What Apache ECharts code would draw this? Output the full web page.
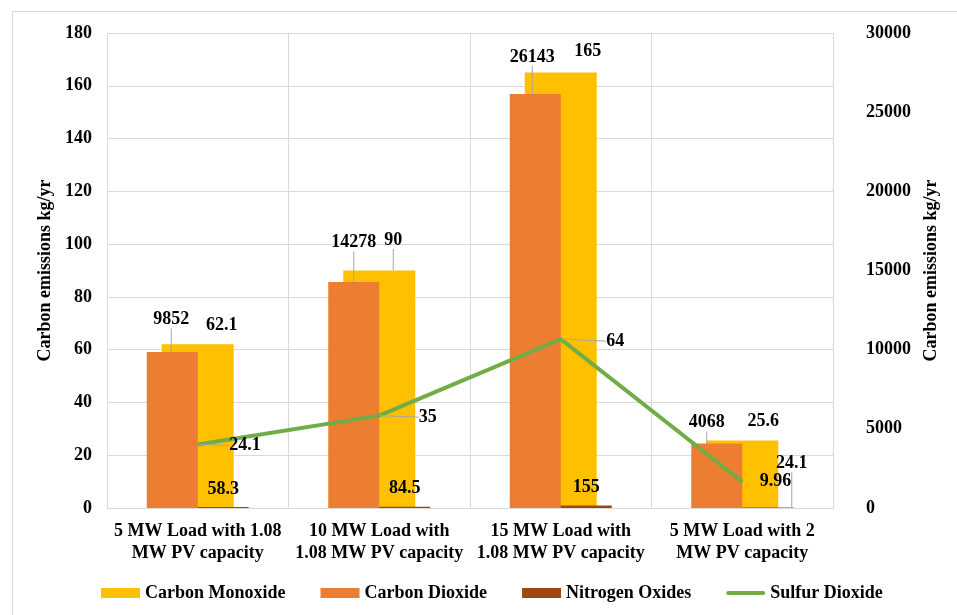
<!DOCTYPE html>
<html>
<head>
<meta charset="utf-8">
<script src="https://cdn.jsdelivr.net/npm/echarts@6/dist/echarts.min.js"></script>
<style>
  html, body { margin: 0; padding: 0; background: #ffffff; }
  #chart { width: 957px; height: 615px; }
</style>
</head>
<body>
<div id="chart"></div>
<script>
// Scenario names shown on the category axis
const categories = [
  '5 MW Load with 1.08\nMW PV capacity',
  '10 MW Load with\n1.08 MW PV capacity',
  '15 MW Load with\n1.08 MW PV capacity',
  '5 MW Load with 2\nMW PV capacity'
];

// Annual emissions per scenario (kg/yr)
const carbonMonoxide = [62.1, 90, 165, 25.6];     // left axis
const carbonDioxide  = [9852, 14278, 26143, 4068]; // right axis
const nitrogenOxides = [58.3, 84.5, 155, 24.1];    // right axis
const sulfurDioxide  = [24.1, 35, 64, 9.96];       // left axis

// Axis tick values
const leftTicks  = [0, 20, 40, 60, 80, 100, 120, 140, 160, 180];
const rightTicks = [0, 5000, 10000, 15000, 20000, 25000, 30000];

// Label nudges (px) from the default label spot, and which labels get a leader line
const coShift  = [[24, -5], [14, -16.5], [27, -7.5], [21, -5]];
const co2Shift = [[-1, -18.5], [0, -25.5], [-3, -23], [-10, -7]];
const noxShift = [[0, -4], [0, -4], [0, -4.5], [24, -30.5]];
const so2Shift = [[26, 1], [34, 1.5], [40, 2], [12, 0]];
const coLeader  = [false, true, false, false];
const co2Leader = [true, true, true, true];
const noxLeader = [false, false, false, true];
const so2Leader = [true, true, true, false];

const FONT = "'Times New Roman', 'Liberation Serif', serif";
const GRID_COLOR = '#D9D9D9';
const textStyle = { fontFamily: FONT, fontSize: 18, fontWeight: 'bold', color: '#000000' };

function items(values, leaders) {
  return values.map((v, i) => ({ value: v, labelLine: { show: leaders[i] } }));
}

function shifted(shifts) {
  return function (p) {
    const s = shifts[p.dataIndex];
    return {
      x: p.labelRect.x + p.labelRect.width / 2 + s[0],
      y: p.labelRect.y + p.labelRect.height / 2 + s[1],
      align: 'center',
      verticalAlign: 'middle'
    };
  };
}

const labelLine = { lineStyle: { color: '#A6A6A6', width: 1 }, length2: 0 };

const chart = echarts.init(document.getElementById('chart'), null, { renderer: 'canvas' });

chart.setOption({
  animation: false,
  backgroundColor: '#ffffff',
  graphic: [{
    type: 'rect',
    left: 10, top: 9,
    shape: { width: 1200, height: 900 },
    style: { fill: 'none', stroke: GRID_COLOR, lineWidth: 1 },
    silent: true, z: -10
  }],
  grid: { left: 107, right: 124, top: 33, bottom: 107, containLabel: false },
  legend: {
    left: 96, top: 579,
    itemWidth: 39, itemHeight: 10, itemGap: 35,
    textStyle: { fontFamily: FONT, fontSize: 18, fontWeight: 'bold', color: '#000000' },
    selectedMode: false,
    data: [
      { name: 'Carbon Monoxide', icon: 'rect' },
      { name: 'Carbon Dioxide', icon: 'rect' },
      { name: 'Nitrogen Oxides', icon: 'rect' },
      { name: 'Sulfur Dioxide', icon: 'path://M2,0H38A2,2 0 0 1 38,4H2A2,2 0 0 1 2,0Z' }
    ]
  },
  xAxis: [
    {
      type: 'category', data: categories, boundaryGap: true,
      axisLine: { show: true, lineStyle: { color: GRID_COLOR, width: 1 } },
      axisTick: { show: false },
      splitLine: { show: true, lineStyle: { color: GRID_COLOR, width: 1 } },
      axisLabel: { interval: 0, margin: 12, lineHeight: 22, ...textStyle }
    },
    { type: 'category', data: categories, boundaryGap: true, show: false }
  ],
  yAxis: [
    {
      type: 'value',
      min: leftTicks[0], max: leftTicks[leftTicks.length - 1], interval: leftTicks[1] - leftTicks[0],
      name: 'Carbon emissions kg/yr', nameLocation: 'middle', nameGap: 45, nameRotate: 90,
      nameTextStyle: textStyle,
      axisLine: { show: false }, axisTick: { show: false },
      splitLine: { show: true, lineStyle: { color: GRID_COLOR, width: 1 } },
      axisLabel: { margin: 15, ...textStyle }
    },
    {
      type: 'value', position: 'right',
      min: rightTicks[0], max: rightTicks[rightTicks.length - 1], interval: rightTicks[1] - rightTicks[0],
      name: 'Carbon emissions kg/yr', nameLocation: 'middle', nameGap: 88, nameRotate: 90,
      nameTextStyle: textStyle,
      axisLine: { show: false }, axisTick: { show: false },
      splitLine: { show: false },
      axisLabel: { margin: 33, align: 'left', formatter: (v) => String(v), ...textStyle }
    }
  ],
  series: [
    {
      name: 'Carbon Monoxide', type: 'bar', xAxisIndex: 0, yAxisIndex: 0,
      barWidth: 72, z: 1,
      data: items(carbonMonoxide, coLeader),
      itemStyle: { color: '#FFC000' },
      label: { show: true, position: 'top', ...textStyle },
      labelLine: labelLine,
      labelLayout: shifted(coShift),
      emphasis: { disabled: true }
    },
    {
      name: 'Carbon Dioxide', type: 'bar', xAxisIndex: 1, yAxisIndex: 1,
      barWidth: 51, barGap: '0%', z: 3,
      data: items(carbonDioxide, co2Leader),
      itemStyle: { color: '#ED7D31' },
      label: { show: true, position: 'top', ...textStyle },
      labelLine: labelLine,
      labelLayout: shifted(co2Shift),
      emphasis: { disabled: true }
    },
    {
      name: 'Nitrogen Oxides', type: 'bar', xAxisIndex: 1, yAxisIndex: 1,
      barWidth: 51, barGap: '0%', z: 3,
      data: items(nitrogenOxides, noxLeader),
      itemStyle: { color: '#9E480E' },
      label: { show: true, position: 'top', ...textStyle },
      labelLine: labelLine,
      labelLayout: shifted(noxShift),
      emphasis: { disabled: true }
    },
    {
      name: 'Sulfur Dioxide', type: 'line', xAxisIndex: 0, yAxisIndex: 0,
      z: 5,
      data: items(sulfurDioxide, so2Leader),
      symbol: 'circle', symbolSize: 1, showSymbol: true,
      itemStyle: { color: '#70AD47' },
      lineStyle: { color: '#70AD47', width: 4 },
      label: { show: true, position: 'right', ...textStyle },
      labelLine: labelLine,
      labelLayout: shifted(so2Shift),
      emphasis: { disabled: true }
    }
  ]
});
</script>
</body>
</html>
